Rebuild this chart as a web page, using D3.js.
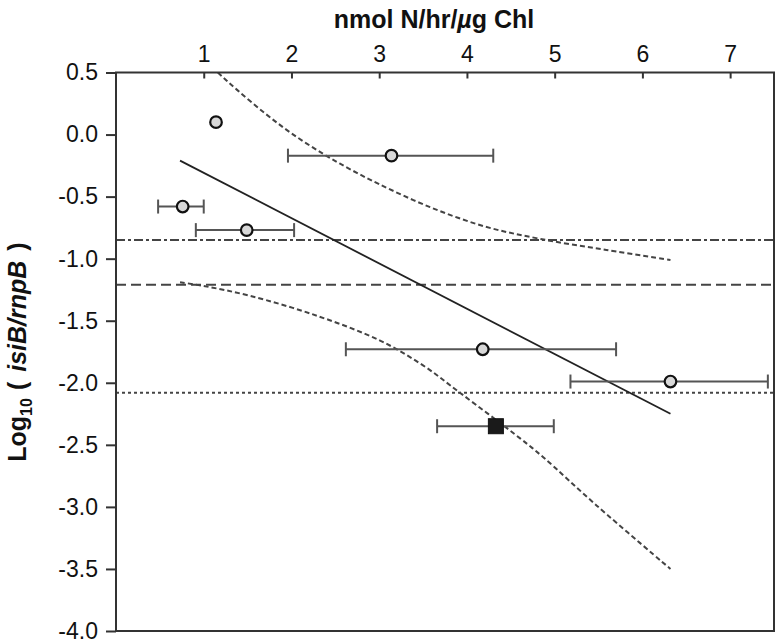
<!DOCTYPE html>
<html>
<head>
<meta charset="utf-8">
<script src="https://cdn.jsdelivr.net/npm/d3@7"></script>
<style>
  body { margin: 0; background: #fff; }
  text { font-family: "Liberation Sans", Arial, Helvetica, sans-serif; }
</style>
</head>
<body>
<div id="chart"></div>
<script>
// values
var xTicks = [1, 2, 3, 4, 5, 6, 7];
var yTicks = [0.5, 0.0, -0.5, -1.0, -1.5, -2.0, -2.5, -3.0, -3.5, -4.0];

// grey circles, with horizontal error bars (null = none)
var circX  = [1.14, 3.14, 0.76, 1.49, 4.18, 6.32];
var circY  = [0.10, -0.17, -0.58, -0.77, -1.73, -1.99];
var circLo = [null, 1.96, 0.48, 0.91, 2.62, 5.18];
var circHi = [null, 4.30, 1.00, 2.03, 5.70, 7.43];

// black square
var sqX  = [4.33];
var sqY  = [-2.35];
var sqLo = [3.66];
var sqHi = [4.99];

// fitted line and confidence band
var fitX = [0.73, 6.32];
var fitY = [-0.21, -2.25];
var upperX = [0.90, 1.16, 1.38, 1.70, 2.00, 2.36, 2.67, 3.00, 3.58, 4.20, 4.83, 5.59, 6.32];
var upperY = [0.68, 0.50, 0.36, 0.17, 0.01, -0.155, -0.28, -0.40, -0.585, -0.74, -0.84, -0.93, -1.01];
var lowerX = [0.73, 1.00, 1.53, 2.29, 3.01, 3.50, 3.92, 4.61, 4.87, 5.48, 6.32];
var lowerY = [-1.19, -1.22, -1.30, -1.46, -1.66, -1.86, -2.08, -2.45, -2.60, -2.99, -3.50];

// horizontal reference levels
var refY = [-0.85, -1.21, -2.08];
var refDash = ["9,3,3,3", "10,5", "3,3"];

var width = 777, height = 643;
var margin = { top: 72.5, right: 3, bottom: 12, left: 116 };

var svg = d3.select("#chart").append("svg")
  .attr("width", width)
  .attr("height", height);

var x = d3.scaleLinear().domain([0, 7.5]).range([margin.left, width - margin.right]);
var y = d3.scaleLinear().domain([-4.0, 0.5]).range([height - margin.bottom, margin.top]);

svg.append("clipPath").attr("id", "plot")
  .append("rect")
  .attr("x", margin.left).attr("y", margin.top)
  .attr("width", width - margin.left - margin.right)
  .attr("height", height - margin.top - margin.bottom);

var ink = "#333";

// reference lines
svg.append("g").selectAll("line")
  .data(refY)
  .join("line")
  .attr("x1", margin.left).attr("x2", width - margin.right)
  .attr("y1", d => y(d)).attr("y2", d => y(d))
  .attr("stroke", "#444")
  .attr("stroke-width", 2)
  .attr("stroke-dasharray", (d, i) => refDash[i]);

// confidence band
var line = d3.line().x(d => x(d[0])).y(d => y(d[1])).curve(d3.curveCatmullRom);
var bands = [d3.zip(upperX, upperY), d3.zip(lowerX, lowerY)];
svg.append("g").attr("clip-path", "url(#plot)")
  .selectAll("path")
  .data(bands)
  .join("path")
  .attr("d", line)
  .attr("fill", "none")
  .attr("stroke", "#444")
  .attr("stroke-width", 2)
  .attr("stroke-dasharray", "5,3");

// fit
svg.append("path")
  .datum(d3.zip(fitX, fitY))
  .attr("d", d3.line().x(d => x(d[0])).y(d => y(d[1])))
  .attr("fill", "none")
  .attr("stroke", "#222")
  .attr("stroke-width", 1.8);

// error bars
var bars = [];
circX.forEach((d, i) => { if (circLo[i] != null) bars.push({ y: circY[i], lo: circLo[i], hi: circHi[i] }); });
sqX.forEach((d, i) => bars.push({ y: sqY[i], lo: sqLo[i], hi: sqHi[i] }));

var eb = svg.append("g").attr("stroke", "#555").attr("stroke-width", 2)
  .selectAll("g").data(bars).join("g");
eb.append("line")
  .attr("x1", d => x(d.lo)).attr("x2", d => x(d.hi))
  .attr("y1", d => y(d.y)).attr("y2", d => y(d.y));
eb.append("line")
  .attr("x1", d => x(d.lo)).attr("x2", d => x(d.lo))
  .attr("y1", d => y(d.y) - 7).attr("y2", d => y(d.y) + 7);
eb.append("line")
  .attr("x1", d => x(d.hi)).attr("x2", d => x(d.hi))
  .attr("y1", d => y(d.y) - 7).attr("y2", d => y(d.y) + 7);

// markers
svg.append("g").selectAll("circle")
  .data(d3.zip(circX, circY))
  .join("circle")
  .attr("cx", d => x(d[0])).attr("cy", d => y(d[1]))
  .attr("r", 5.8)
  .attr("fill", "#d8d8d8")
  .attr("stroke", "#111")
  .attr("stroke-width", 2.2);

svg.append("g").selectAll("rect")
  .data(d3.zip(sqX, sqY))
  .join("rect")
  .attr("x", d => x(d[0]) - 7.5).attr("y", d => y(d[1]) - 7.5)
  .attr("width", 15).attr("height", 15)
  .attr("fill", "#1a1a1a")
  .attr("stroke", "#111")
  .attr("stroke-width", 1);

// frame
svg.append("rect")
  .attr("x", margin.left).attr("y", margin.top)
  .attr("width", width - margin.left - margin.right)
  .attr("height", height - margin.top - margin.bottom)
  .attr("fill", "none")
  .attr("stroke", ink)
  .attr("stroke-width", 2);

// top axis, ticks point into the plot
var topAxis = svg.append("g")
  .attr("transform", `translate(0,${margin.top})`)
  .call(d3.axisTop(x).tickValues(xTicks).tickFormat(d3.format("d")).tickSizeInner(-6).tickSizeOuter(0).tickPadding(11));
topAxis.select(".domain").remove();
topAxis.selectAll("line").attr("stroke", ink).attr("stroke-width", 2);
topAxis.selectAll("text").attr("font-size", 23).attr("fill", "#111");

// left axis
var leftAxis = svg.append("g")
  .attr("transform", `translate(${margin.left},0)`)
  .call(d3.axisLeft(y).tickValues(yTicks).tickFormat(d => d.toFixed(1)).tickSize(10).tickPadding(8));
leftAxis.select(".domain").remove();
leftAxis.selectAll("line").attr("stroke", ink).attr("stroke-width", 2);
leftAxis.selectAll("text").attr("font-size", 23).attr("fill", "#111");

// titles
var xt = svg.append("text")
  .attr("x", 434).attr("y", 28)
  .attr("text-anchor", "middle")
  .attr("font-size", 25).attr("font-weight", "bold").attr("fill", "#111");
xt.append("tspan").text("nmol N/hr/");
xt.append("tspan").attr("font-style", "italic").text("\u00b5");
xt.append("tspan").text("g Chl");

var yt = svg.append("text")
  .attr("transform", "translate(26,352) rotate(-90)")
  .attr("text-anchor", "middle")
  .attr("font-size", 25).attr("font-weight", "bold").attr("fill", "#111");
yt.append("tspan").text("Log");
yt.append("tspan").attr("font-size", 16).attr("dy", 6).text("10");
yt.append("tspan").attr("dy", -6).attr("dx", 8).text("(");
yt.append("tspan").attr("dx", 10).attr("font-style", "italic").text("isiB/rnpB");
yt.append("tspan").attr("dx", 10).text(")");
</script>
</body>
</html>
